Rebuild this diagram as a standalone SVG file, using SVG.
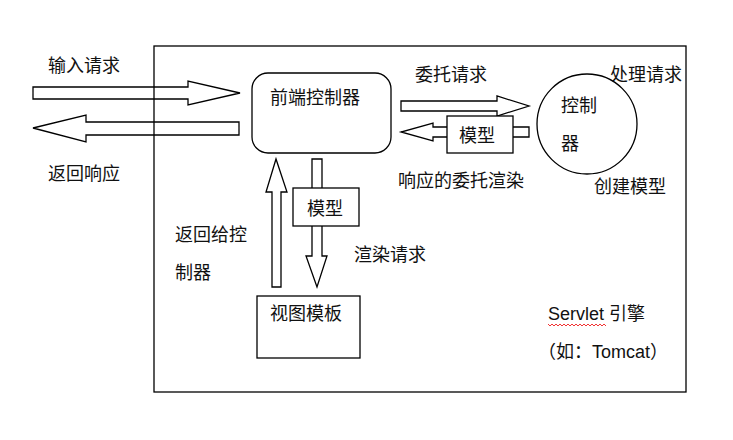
<svg xmlns="http://www.w3.org/2000/svg" width="733" height="440" viewBox="0 0 733 440">
<style>
.sh{fill:#fff;stroke:#000;stroke-width:1.3}
.ar{fill:none;stroke:#000;stroke-width:1.3;stroke-linejoin:miter}
.t{font-family:"Liberation Serif","Noto Sans CJK SC",serif;font-size:18px;fill:#111}
.s{font-family:"Liberation Sans","Noto Sans CJK SC",sans-serif;font-size:18px;fill:#111}
</style>
<rect width="733" height="440" fill="#fff"/>
<g id="engine">
<rect x="154" y="46" width="532" height="346" fill="#fff" stroke="#000" stroke-width="1.3"/>
<text class="s" x="548" y="320">Servlet 引擎</text>
<path d="M548,324 l2,2 l2,-2 l2,2 l2,-2 l2,2 l2,-2 l2,2 l2,-2 l2,2 l2,-2 l2,2 l2,-2 l2,2 l2,-2 l2,2 l2,-2 l2,2 l2,-2 l2,2 l2,-2 l2,2 l2,-2 l2,2 l2,-2 l2,2 l2,-2 l2,2 l2,-2 l2,2" fill="none" stroke="#e00" stroke-width="0.8"/>
<text class="s" x="538" y="358">（如：Tomcat）</text>
</g>
<g id="connectors">
<path class="ar" d="M33,87 H188 V81 L240,93 L188,105 V99 H33 Z"/>
<path class="ar" d="M239,122 H86 V115 L33,128 L86,142 V135 H239 Z"/>
<path class="ar" d="M401,101 H497 V96 L529,106 L497,116 V111 H401 Z"/>
<path class="ar" d="M529,127 H433 V123 L401,132 L433,141 V137 H529 Z"/>
<path class="ar" d="M272,287 V192 H266 L276,159 L287,192 H281 V287 Z"/>
<path class="ar" d="M312,159 V256 H306 L317,287 L327,256 H322 V159 Z"/>
<text class="t" x="48" y="72">输入请求</text>
<text class="t" x="48" y="180">返回响应</text>
<text class="t" x="415" y="81">委托请求</text>
<text class="t" x="610" y="81">处理请求</text>
<text class="t" x="398" y="187">响应的委托渲染</text>
<text class="t" x="594" y="193">创建模型</text>
<text class="t" x="175" y="241">返回给控</text>
<text class="t" x="175" y="279">制器</text>
<text class="t" x="354" y="261">渲染请求</text>
</g>
<g id="front-controller">
<rect class="sh" x="252" y="73" width="139" height="80" rx="16" ry="16"/>
<text class="t" x="270" y="104">前端控制器</text>
</g>
<g id="controller">
<circle class="sh" cx="587" cy="124" r="50"/>
<text class="t" x="561" y="112">控制</text>
<text class="t" x="561" y="150">器</text>
</g>
<g id="model-right">
<rect class="sh" x="447" y="116" width="66" height="37"/>
<text class="t" x="459" y="142">模型</text>
</g>
<g id="model-down">
<rect class="sh" x="293" y="188" width="66" height="38"/>
<text class="t" x="307" y="215">模型</text>
</g>
<g id="view-template">
<rect class="sh" x="257" y="296" width="103" height="62"/>
<text class="t" x="270" y="320">视图模板</text>
</g>
</svg>
